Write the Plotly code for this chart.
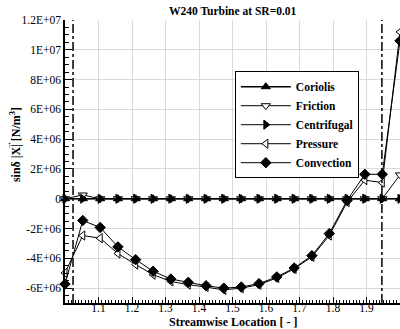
import plotly.graph_objects as go

# ---- data ----
x_loc = [1.000, 1.053, 1.105, 1.158, 1.211, 1.263, 1.316, 1.368, 1.421, 1.474,
         1.526, 1.579, 1.632, 1.684, 1.737, 1.789, 1.842, 1.895, 1.947, 2.000]
coriolis = [0] * 20
friction = [0, 2.5e5, 0, 0, 0, 0, 0, 0, 0, 0,
            0, 0, 0, 0, 0, 0, 0, 0, 0, 1.6e6]
centrifugal = [0] * 20
pressure = [-4.98e6, -2.47e6, -2.65e6, -3.68e6, -4.42e6, -5.10e6, -5.55e6, -5.77e6, -5.93e6, -6.12e6,
            -6.00e6, -5.77e6, -5.32e6, -4.71e6, -3.90e6, -2.47e6, -0.23e6, 1.25e6, 1.08e6, 1.12e7]
convection = [-5.73e6, -1.46e6, -1.93e6, -3.23e6, -4.09e6, -4.87e6, -5.39e6, -5.61e6, -5.84e6, -6.00e6,
              -5.93e6, -5.70e6, -5.25e6, -4.65e6, -3.82e6, -2.34e6, -0.11e6, 1.64e6, 1.64e6, 1.06e7]
ref_lines = [1.024, 1.946]

x_tickvals = [1.1, 1.2, 1.3, 1.4, 1.5, 1.6, 1.7, 1.8, 1.9]
x_ticktext = ["1.1", "1.2", "1.3", "1.4", "1.5", "1.6", "1.7", "1.8", "1.9"]
y_tickvals = [1.2e7, 1e7, 8e6, 6e6, 4e6, 2e6, 0, -2e6, -4e6, -6e6]
y_ticktext = ["1.2E+07", "1E+07", "8E+06", "6E+06", "4E+06", "2E+06", "0", "-2E+06", "-4E+06", "-6E+06"]

FONT = "Liberation Serif, Times New Roman, serif"

series = [
    ("Coriolis", coriolis, "triangle-up", "black", 1.5),
    ("Friction", friction, "triangle-down", "white", 1),
    ("Centrifugal", centrifugal, "triangle-right", "black", 1),
    ("Pressure", pressure, "triangle-left", "white", 1),
    ("Convection", convection, "diamond", "black", 1),
]

fig = go.Figure()
for name, vals, sym, fill, lw in series:
    fig.add_trace(go.Scatter(
        x=x_loc, y=vals, name=name, mode="lines+markers", cliponaxis=False,
        line=dict(color="black", width=lw),
        marker=dict(symbol=sym, size=8, color=fill, line=dict(color="black", width=1)),
    ))

for xv in ref_lines:
    fig.add_shape(type="line", xref="x", yref="paper", x0=xv, x1=xv, y0=0, y1=1,
                  line=dict(color="black", width=1.5, dash="dashdot"))

fig.update_layout(
    width=400, height=329,
    margin=dict(l=65, r=0, t=20, b=26, autoexpand=False),
    paper_bgcolor="white", plot_bgcolor="white",
    font=dict(family=FONT, color="black", size=11.5),
    showlegend=True,
    legend=dict(x=0.507, y=0.63, xanchor="left", yanchor="middle",
                bgcolor="white", bordercolor="black", borderwidth=1,
                itemwidth=50,
                font=dict(family=FONT, size=11.5, color="black", weight="bold"),
                tracegroupgap=0),
    annotations=[
        dict(text="<b>W240 Turbine at SR=0.01</b>", xref="paper", yref="paper",
             x=0.5, y=1, yshift=1, xanchor="center", yanchor="bottom", showarrow=False,
             font=dict(family=FONT, size=11.5, color="black")),
        dict(text="<b>Streamwise Location [ - ]</b>", xref="paper", yref="paper",
             x=0.5, y=0, yshift=-19, xanchor="center", yanchor="middle", showarrow=False,
             font=dict(family=FONT, size=12, color="black")),
        dict(text="<b>sinδ |X| [N/m<sup>3</sup>]</b>",
             xref="paper", yref="paper",
             x=0, xshift=-50, y=0.558, xanchor="center", yanchor="middle", textangle=-90,
             showarrow=False, font=dict(family=FONT, size=12, color="black")),
        dict(text="<b>\u2192</b>",
             xref="paper", yref="paper",
             x=0, xshift=-57, y=0.556, xanchor="center", yanchor="middle", textangle=-90,
             showarrow=False, font=dict(family=FONT, size=9, color="black")),
    ],
)

fig.update_xaxes(
    range=[1.0, 2.0], tickvals=x_tickvals, ticktext=x_ticktext,
    showgrid=True, gridcolor="#d9d9d9", gridwidth=1, zeroline=False,
    showline=True, linecolor="black", linewidth=1.5,
    ticks="inside", ticklen=6, tickcolor="black", tickwidth=1,
    ticklabelstandoff=-7,
    minor=dict(tick0=1.0, dtick=0.01, ticks="inside", ticklen=3, tickcolor="black", showgrid=False),
    tickfont=dict(family=FONT, size=11.5, color="black"),
)
fig.update_yaxes(
    range=[-7e6, 1.2e7], tickvals=y_tickvals, ticktext=y_ticktext,
    showgrid=True, gridcolor="#d9d9d9", gridwidth=1, zeroline=False,
    showline=True, linecolor="black", linewidth=1.5,
    ticks="inside", ticklen=7, tickcolor="black", tickwidth=1,
    minor=dict(tick0=0, dtick=5e5, ticks="inside", ticklen=4, tickcolor="black", showgrid=False),
    tickfont=dict(family=FONT, size=11.5, color="black"),
)

fig.write_html("out.html", config={"displayModeBar": False},
               post_script="document.body.style.margin='0';")
